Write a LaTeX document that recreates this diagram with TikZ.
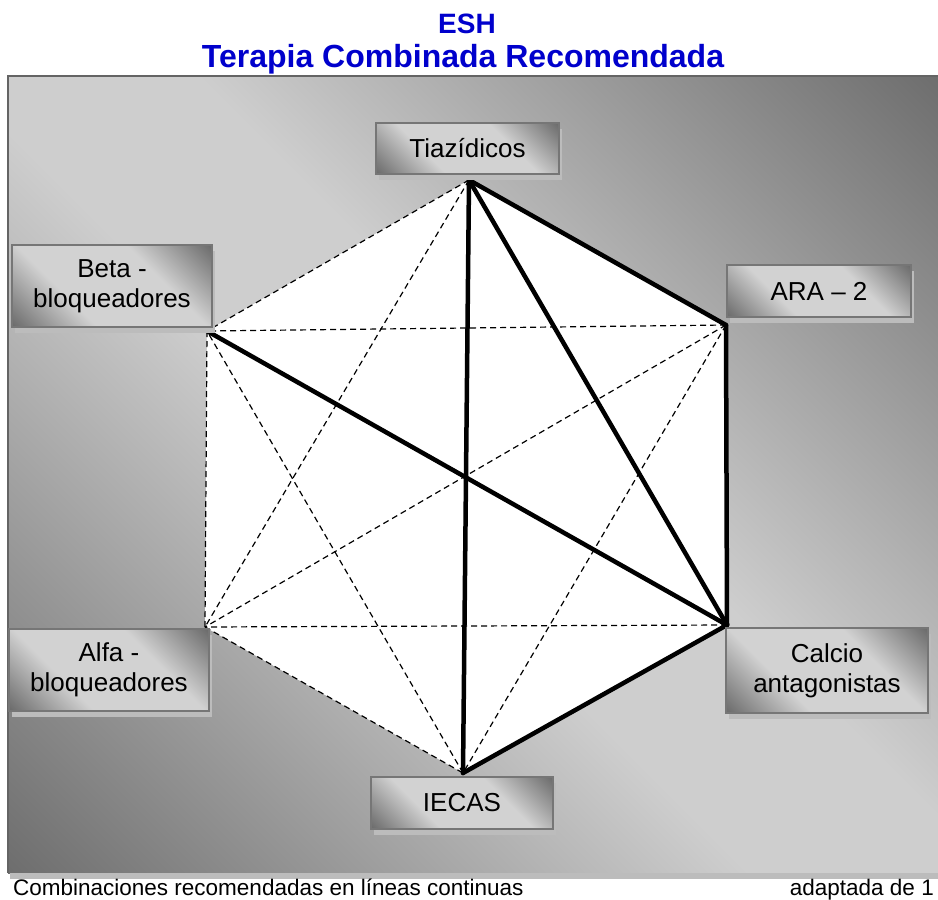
\documentclass[tikz,border=0pt]{standalone}
\usepackage{fontspec}
\setmainfont{Liberation Sans}
\usetikzlibrary{shadows}
\definecolor{ttl}{RGB}{0,0,204}
\definecolor{dk}{RGB}{108,108,108}
\definecolor{lt}{RGB}{206,206,206}
\definecolor{blt}{RGB}{210,210,210}
\definecolor{brd}{RGB}{118,118,118}
\definecolor{frm}{RGB}{100,100,100}
\definecolor{shd}{RGB}{188,188,188}
\pgfdeclareverticalshading{saddle}{100bp}{color(0bp)=(dk); color(14bp)=(dk); color(45bp)=(lt); color(55bp)=(lt); color(86bp)=(dk); color(100bp)=(dk)}
\pgfdeclareverticalshading{boxsaddle}{100bp}{color(0bp)=(dk); color(15bp)=(dk); color(36bp)=(blt); color(64bp)=(blt); color(85bp)=(dk); color(100bp)=(dk)}
\begin{document}
\begin{tikzpicture}[x=1pt,y=-1pt,
  grad/.style={shading=saddle, shading angle=-45},
  lbl/.style={rectangle, draw=brd, line width=2pt, shade, shading=boxsaddle, shading angle=-45,
    font=\fontsize{26}{30}\selectfont, align=center, inner sep=0pt,
    drop shadow={shadow xshift=3pt, shadow yshift=-6pt, fill=shd, opacity=1}},
  rec/.style={line width=4.5pt, line cap=round, line join=miter},
  alt/.style={line width=1.2pt, dash pattern=on 6pt off 4pt},
  note/.style={font=\fontsize{22.5}{26}\selectfont, inner sep=0pt}]
\useasboundingbox (0,0) rectangle (938,900);
% frame
\shade[grad] (8,76) rectangle (939,873);
\draw[frm, line width=2.5pt] (8,873) -- (8,76) -- (939,76);
\fill[shd] (10,873) rectangle (939,879);
% titles
\node[font=\fontsize{28}{32}\selectfont\bfseries, text=ttl, anchor=base] (t1) at (467,33) {ESH};
\node[font=\fontsize{32}{34}\selectfont\bfseries, text=ttl, anchor=base] (t2) at (463,67) {Terapia Combinada Recomendada};
% vertices
\coordinate (T) at (469,180);
\coordinate (A) at (726,325);
\coordinate (C) at (727,625);
\coordinate (I) at (463,773);
\coordinate (Al) at (205,627);
\coordinate (B) at (207,331);
\fill[white] (T) -- (A) -- (C) -- (I) -- (Al) -- (B) -- cycle;
% dashed combinations
\draw[alt] (T) -- (B);
\draw[alt] (B) -- (Al);
\draw[alt] (Al) -- (I);
\draw[alt] (T) -- (Al);
\draw[alt] (A) -- (B);
\draw[alt] (A) -- (Al);
\draw[alt] (A) -- (I);
\draw[alt] (C) -- (Al);
\draw[alt] (I) -- (B);
% recommended combinations
\draw[rec] (T) -- (A);
\draw[rec] (A) -- (C);
\draw[rec] (C) -- (I);
\draw[rec] (T) -- (C);
\draw[rec] (T) -- (I);
\draw[rec] (B) -- (C);
% labels
\node[lbl, minimum width=183, minimum height=51] (tiaz) at (467.5,148.5) {Tiazídicos};
\node[lbl, minimum width=200, minimum height=82] (beta) at (112,286) {Beta -\\bloqueadores};
\node[lbl, minimum width=184, minimum height=52] (ara) at (819,291) {ARA – 2};
\node[lbl, minimum width=200, minimum height=82] (alfa) at (109,670) {Alfa -\\bloqueadores};
\node[lbl, minimum width=202, minimum height=85] (calcio) at (827,670.5) {Calcio\\antagonistas};
\node[lbl, minimum width=182, minimum height=52] (iecas) at (462,803) {IECAS};
% footer
\node[note, anchor=base west] (n1) at (13,895) {Combinaciones recomendadas en líneas continuas};
\node[note, anchor=base east] (n2) at (934,895) {adaptada de 1};
\end{tikzpicture}
\end{document}
